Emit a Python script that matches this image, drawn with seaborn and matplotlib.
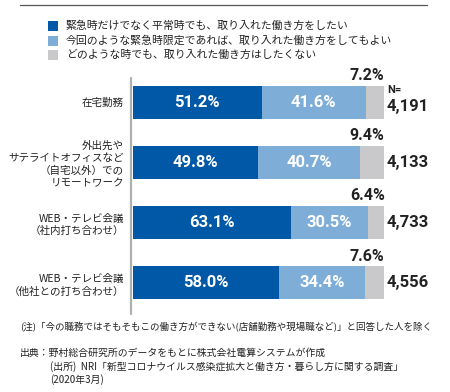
import matplotlib
matplotlib.use("Agg")
import matplotlib.pyplot as plt
import seaborn as sns
import pandas as pd
from matplotlib.lines import Line2D
from matplotlib.patches import Rectangle

sns.set_style("white")
plt.rcParams['font.family'] = ['Noto Sans CJK JP', 'DejaVu Sans']

categories = ["在宅勤務",
              "外出先や\nサテライトオフィスなど\n（自宅以外）での\nリモートワーク",
              "WEB・テレビ会議\n（社内打ち合わせ）",
              "WEB・テレビ会議\n（他社との打ち合わせ）"]
always = [51.2, 49.8, 63.1, 58.0]
emergency_only = [41.6, 40.7, 30.5, 34.4]
never = [7.2, 9.4, 6.4, 7.6]
n_labels = ["4,191", "4,133", "4,733", "4,556"]
legend_labels = ["緊急時だけでなく平常時でも、取り入れた働き方をしたい",
                 "今回のような緊急時限定であれば、取り入れた働き方をしてもよい",
                 "どのような時でも、取り入れた働き方はしたくない"]
colors = ["#0058a6", "#7eaed8", "#c9c9cb"]

W, H = 450, 392
fig = plt.figure(figsize=(4.5, 3.92), dpi=100)

def fx(px): return px / W
def fy(py): return 1 - py / H

ax = fig.add_axes([fx(133), fy(313), fx(384) - fx(133), fy(72) - fy(313)])

df = pd.DataFrame({
    "cat": categories,
    "c1": always,
    "c2": [a + b for a, b in zip(always, emergency_only)],
    "c3": [a + b + c for a, b, c in zip(always, emergency_only, never)],
})
for col, c in zip(["c3", "c2", "c1"], colors[::-1]):
    sns.barplot(data=df, x=col, y="cat", order=categories, orient="h",
                color=c, width=0.55, linewidth=0, saturation=1, ax=ax)

ax.set_xlim(0, 100)
ax.set_ylim(3.5, -0.5)
ax.set_xlabel("")
ax.set_ylabel("")
ax.set_xticks([])
for s in ax.spines.values():
    s.set_visible(False)
ax.tick_params(axis="y", length=0, pad=6.5)
ax.set_yticks(range(len(categories)))
ax.set_yticklabels(categories, fontsize=7.6, color="#222222", linespacing=1.3, ha="right")

num_font = dict(family=["Roboto", "DejaVu Sans"], fontweight="bold")
for i in range(len(categories)):
    ax.text(always[i] / 2, i, f"{always[i]:.1f}%", ha="center", va="center",
            color="white", fontsize=12, **num_font)
    ax.text(always[i] + emergency_only[i] / 2, i, f"{emergency_only[i]:.1f}%",
            ha="center", va="center", color="white", fontsize=12, **num_font)
    ax.annotate(f"{never[i]:.1f}%", xy=(100, i - 0.275), xytext=(0.5, 2),
                textcoords="offset points", ha="right", va="bottom",
                color="#222222", fontsize=11.5, **num_font)
    if i == 0:
        ax.annotate(n_labels[i], xy=(100, i), xytext=(2.2, -3.5),
                    textcoords="offset points", ha="left", va="center",
                    color="#222222", fontsize=12, **num_font)
        ax.annotate("N=", xy=(100, i), xytext=(2.2, 9),
                    textcoords="offset points", ha="left", va="center",
                    color="#222222", fontsize=8, **num_font)
    else:
        ax.annotate(n_labels[i], xy=(100, i), xytext=(2.2, 0),
                    textcoords="offset points", ha="left", va="center",
                    color="#222222", fontsize=12, **num_font)

# axis line
fig.add_artist(Line2D([fx(131), fx(131)], [fy(78), fy(314)], color="#b0b0b0", lw=1.6))
# top rule
fig.add_artist(Line2D([fx(20), fx(427)], [fy(5), fy(5)], color="#555555", lw=0.9))

# legend
for k, (lab, c) in enumerate(zip(legend_labels, colors)):
    yc = 26 + k * 14.5
    fig.add_artist(Rectangle((fx(48), fy(yc + 5)), fx(10), fy(0) - fy(10),
                             facecolor=c, edgecolor="none"))
    fig.text(fx(66), fy(yc), lab, ha="left", va="center", fontsize=7.8, color="#222222")

# notes
fig.text(fx(20), fy(327), "(注)「今の職務ではそもそもこの働き方ができない(店舗勤務や現場職など)」と回答した人を除く",
         ha="left", va="center", fontsize=6.85, color="#222222")
fig.text(fx(20), fy(353), "出典：野村総合研究所のデータをもとに株式会社電算システムが作成",
         ha="left", va="center", fontsize=7.1, color="#222222")
fig.text(fx(50), fy(367), "(出所)  NRI「新型コロナウイルス感染症拡大と働き方・暮らし方に関する調査」",
         ha="left", va="center", fontsize=7.1, color="#222222")
fig.text(fx(50), fy(380), "(2020年3月)",
         ha="left", va="center", fontsize=7.1, color="#222222")

fig.savefig("out.png", dpi=100)
